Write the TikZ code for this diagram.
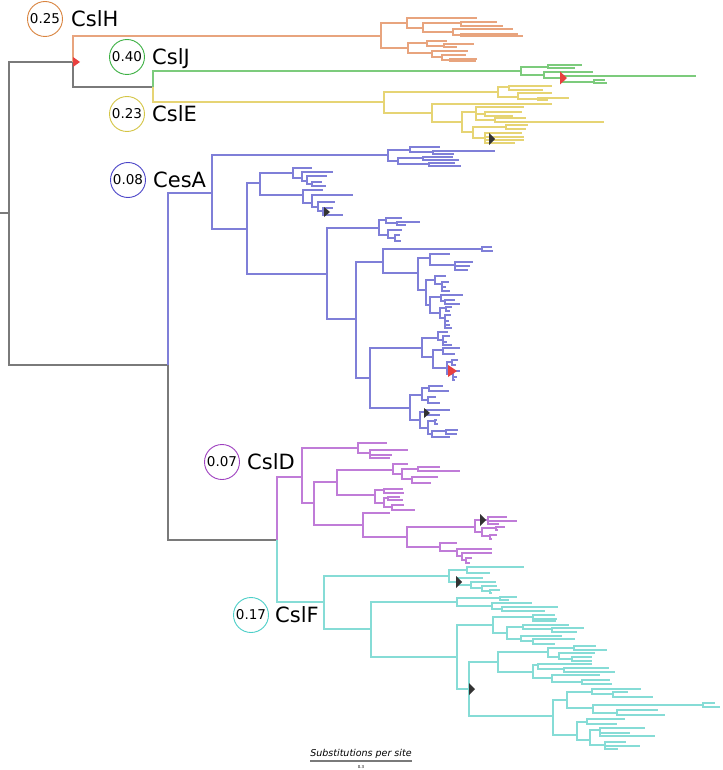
\documentclass[tikz,border=0pt]{standalone}
\usepackage{fontspec}
\setmainfont{DejaVu Sans}
\definecolor{lH}{HTML}{E8A47E}
\definecolor{lJ}{HTML}{7CCB7C}
\definecolor{lE}{HTML}{E6D474}
\definecolor{lA}{HTML}{7F7FD8}
\definecolor{lD}{HTML}{C07CD8}
\definecolor{lF}{HTML}{86DCD6}
\definecolor{lG}{HTML}{7A7A7A}
\definecolor{cH}{HTML}{D9843F}
\definecolor{cJ}{HTML}{3CB043}
\definecolor{cE}{HTML}{D4C545}
\definecolor{cA}{HTML}{4B45C8}
\definecolor{cD}{HTML}{9E3FBF}
\definecolor{cF}{HTML}{4CCFC8}
\definecolor{tred}{HTML}{E8403F}
\definecolor{tdark}{HTML}{333333}
\newcommand\nd[4]{\foreach \cx/\cy in {#4}{\draw[#1] (#2,#3) |- (\cx,\cy);}}
\newcommand\tri[5]{\fill[#1] (#2,#3-#5) -- (#2+#4,#3) -- (#2,#3+#5) -- cycle;}
\tikzset{
  br/.style={line width=1.1pt},
  tH/.style={br,lH}, tJ/.style={br,lJ}, tE/.style={br,lE}, tA/.style={br,lA},
  tD/.style={br,lD}, tF/.style={br,lF}, tG/.style={br,lG},
  circ/.style={circle,draw=#1,line width=0.9pt,minimum size=35pt,inner sep=0pt,
    font=\fontsize{13.5}{14}\selectfont},
  lab/.style={anchor=west,inner sep=0pt,text height=15pt,text depth=0pt,
    font=\fontsize{21}{24}\selectfont}
}
\begin{document}
\begin{tikzpicture}[x=1pt,y=-1pt]
\fill[white] (0,0) rectangle (722,770);
\useasboundingbox (0,0) rectangle (722,770);
% root
\draw[tG] (0,213) -- (9,213);
\nd{tG}{9}{213}{73/62,168/365}
\nd{tH}{73}{62}{381/36}
\nd{tG}{73}{62}{153/87}
\nd{tJ}{153}{87}{521/71}
\nd{tE}{153}{87}{384/102}
% CslH
\nd{tH}{381}{36}{407/23,408/48}
\nd{tH}{407}{23}{477/18,423/28}
\nd{tH}{423}{28}{461/23,453/32}
\nd{tH}{461}{23}{497/22,503/26}
\nd{tH}{453}{32}{513/29,461/35}
\nd{tH}{461}{35}{518/34,523/36}
\nd{tH}{408}{48}{427/43,432/53}
\nd{tH}{427}{43}{447/41,444/46}
\nd{tH}{444}{46}{474/44,457/47}
\nd{tH}{432}{53}{468/51,442/57}
\nd{tH}{442}{57}{466/55,450/60}
\nd{tH}{450}{60}{477/59,476/61}
% CslJ
\nd{tJ}{521}{71}{548/67,544/75}
\nd{tJ}{548}{67}{582/65,575/68}
\nd{tJ}{544}{75}{593/72,562/78}
\nd{tJ}{562}{78}{696/76,594/82}
\nd{tJ}{594}{82}{605/80,607/83}
% CslE
\nd{tE}{384}{102}{498/92,432/113}
\nd{tE}{498}{92}{509/87,518/97}
\nd{tE}{509}{87}{552/86,543/90}
\nd{tE}{518}{97}{552/93,538/99}
\nd{tE}{538}{99}{569/98,548/100}
\nd{tE}{432}{113}{552/104,462/122}
\nd{tE}{462}{122}{476/112,473/132}
\nd{tE}{476}{112}{524/107,485/114,495/120}
\nd{tE}{485}{114}{522/112,513/116}
\nd{tE}{495}{120}{526/118,604/122}
\nd{tE}{473}{132}{506/127,485/138}
\nd{tE}{506}{127}{528/125,526/129}
\nd{tE}{485}{138}{522/133,524/137,524/140,515/143}
% CesA
\nd{tA}{168}{365}{212/193}
\nd{tG}{168}{365}{277/540}
\nd{tA}{212}{193}{388/155,247/229}
\nd{tA}{388}{155}{410/150,398/161}
\nd{tA}{410}{150}{440/147,433/152}
\nd{tA}{433}{152}{495/151,454/154}
\nd{tA}{398}{161}{423/158,429/164}
\nd{tA}{423}{158}{453/157,459/160}
\nd{tA}{429}{164}{455/163,461/166}
\nd{tA}{247}{229}{260/183,327/274}
\nd{tA}{260}{183}{293/173,303/195}
\nd{tA}{293}{173}{312/168,302/178}
\nd{tA}{302}{178}{333/172,307/181}
\nd{tA}{307}{181}{327/176,312/184}
\nd{tA}{312}{184}{322/182,326/186}
\nd{tA}{303}{195}{323/190,312/203}
\nd{tA}{312}{203}{353/195,318/207}
\nd{tA}{318}{207}{335/202,323/211}
\nd{tA}{323}{211}{333/208,343/215}
\nd{tA}{327}{274}{379/228,356/319}
\nd{tA}{379}{228}{386/220,388/235}
\nd{tA}{386}{220}{402/218,397/223}
\nd{tA}{397}{223}{420/222,406/225}
\nd{tA}{388}{235}{402/230,395/238}
\nd{tA}{395}{238}{400/235,401/241}
\nd{tA}{356}{319}{383/262,370/378}
\nd{tA}{383}{262}{482/249,418/273}
\nd{tA}{482}{249}{492/247,493/251}
\nd{tA}{418}{273}{430/258,426/290}
\nd{tA}{430}{258}{450/254,455/265}
\nd{tA}{455}{265}{473/262,470/266,468/270}
\nd{tA}{426}{290}{435/280,430/305}
\nd{tA}{435}{280}{446/276,442/284}
\nd{tA}{442}{284}{449/282,446/287,450/291}
\nd{tA}{430}{305}{441/297,440/313}
\nd{tA}{441}{297}{463/295,445/301}
\nd{tA}{445}{301}{455/300,460/304}
\nd{tA}{440}{313}{446/308,445/318}
\nd{tA}{446}{308}{452/307,450/311}
\nd{tA}{445}{318}{451/315,449/321,450/325,452/328}
\nd{tA}{370}{378}{422/348,410/408}
\nd{tA}{422}{348}{438/338,433/357}
\nd{tA}{438}{338}{448/332,443/340}
\nd{tA}{443}{340}{450/336,447/342,452/345}
\nd{tA}{433}{357}{443/350,447/368}
\nd{tA}{443}{350}{460/348,455/354}
\nd{tA}{447}{368}{452/362,453/374}
\nd{tA}{452}{362}{458/360,456/365}
\nd{tA}{453}{374}{460/371,457/377,455/380}
\nd{tA}{410}{408}{422/395,420/420}
\nd{tA}{422}{395}{429/388,428/400}
\nd{tA}{429}{388}{443/386,449/391}
\nd{tA}{428}{400}{436/397,440/403}
\nd{tA}{420}{420}{425/412,428/428}
\nd{tA}{425}{412}{450/410,440/415}
\nd{tA}{428}{428}{435/421,432/434}
\nd{tA}{435}{421}{437/420,438/424}
\nd{tA}{432}{434}{446/431,450/437}
\nd{tA}{446}{431}{458/430,457/434}
% CslD
\nd{tD}{277}{540}{302/477}
\nd{tF}{277}{540}{324/602}
\nd{tD}{302}{477}{358/448,314/503}
\nd{tD}{358}{448}{387/443,370/453}
\nd{tD}{370}{453}{408/450,392/455,390/458}
\nd{tD}{314}{503}{337/482,363/525}
\nd{tD}{337}{482}{393/470,375/495}
\nd{tD}{393}{470}{408/464,402/474}
\nd{tD}{402}{474}{418/469,412/479}
\nd{tD}{418}{469}{440/467,460/471}
\nd{tD}{412}{479}{438/477,431/483}
\nd{tD}{375}{495}{384/490,384/503}
\nd{tD}{384}{490}{403/489,404/493}
\nd{tD}{384}{503}{388/498,392/507}
\nd{tD}{388}{498}{400/497,403/500}
\nd{tD}{392}{507}{404/505,415/510}
\nd{tD}{363}{525}{390/513,407/537}
\nd{tD}{407}{537}{475/527,440/547}
\nd{tD}{475}{527}{488/520,482/532}
\nd{tD}{488}{520}{507/517,517/521,499/524}
\nd{tD}{482}{532}{496/528,490/536}
\nd{tD}{496}{528}{505/527,498/530}
\nd{tD}{490}{536}{497/535,492/539}
\nd{tD}{440}{547}{457/543,457/551}
\nd{tD}{457}{551}{492/549,462/556}
\nd{tD}{462}{556}{492/553,466/560}
\nd{tD}{466}{560}{472/558,470/563}
% CslF
\nd{tF}{324}{602}{449/576,371/629}
\nd{tF}{449}{576}{467/570,458/582}
\nd{tF}{467}{570}{524/567,490/573}
\nd{tF}{458}{582}{483/578,471/585}
\nd{tF}{471}{585}{496/582,482/588}
\nd{tF}{482}{588}{497/586,490/591}
\nd{tF}{490}{591}{500/590,492/593}
\nd{tF}{371}{629}{457/602,457/657}
\nd{tF}{457}{602}{500/598,492/606}
\nd{tF}{500}{598}{517/597,509/600}
\nd{tF}{492}{606}{532/603,502/609}
\nd{tF}{502}{609}{558/607,545/611}
\nd{tF}{457}{657}{493/625,469/689}
\nd{tF}{493}{625}{533/617,507/633}
\nd{tF}{533}{617}{555/615,557/619,556/621}
\nd{tF}{507}{633}{523/627,521/639}
\nd{tF}{523}{627}{569/625,552/629}
\nd{tF}{552}{629}{584/628,577/632}
\nd{tF}{521}{639}{562/636,533/641}
\nd{tF}{533}{641}{575/639,555/644}
\nd{tF}{469}{689}{498/662,553/716}
\nd{tF}{498}{662}{548/652,533/672}
\nd{tF}{548}{652}{574/648,559/657}
\nd{tF}{574}{648}{596/646,607/650}
\nd{tF}{559}{657}{595/653,572/659}
\nd{tF}{572}{659}{592/657,592/661}
\nd{tF}{533}{672}{538/665,552/678}
\nd{tF}{538}{665}{592/664,564/669}
\nd{tF}{564}{669}{609/668,615/672}
\nd{tF}{552}{678}{600/675,582/682}
\nd{tF}{582}{682}{610/680,612/684}
\nd{tF}{553}{716}{567/700,577/735}
\nd{tF}{567}{700}{592/692,593/708}
\nd{tF}{592}{692}{641/689,613/694}
\nd{tF}{613}{694}{628/692,653/697}
\nd{tF}{593}{708}{703/705,617/713}
\nd{tF}{703}{705}{715/703,720/707}
\nd{tF}{617}{713}{658/710,665/715}
\nd{tF}{577}{735}{587/722,590/740}
\nd{tF}{587}{722}{625/719,617/724}
\nd{tF}{590}{740}{600/730,605/745}
\nd{tF}{600}{730}{645/728,630/733,655/736}
\nd{tF}{605}{745}{626/742,640/746,618/749}
% triangles
\tri{tred}{73}{62}{7}{5}
\tri{tred}{560}{78}{7}{6.5}
\tri{tdark}{489}{139}{6}{6}
\tri{tdark}{324}{212}{6}{5}
\tri{tred}{448}{371}{9}{6}
\tri{tdark}{424}{413}{6}{5}
\tri{tdark}{480}{520}{6}{6}
\tri{tdark}{456}{582}{6}{6}
\tri{tdark}{469}{689}{6}{6}
% labels
\node[circ=cH] (kH) at (45,19) {0.25};
\node[lab] (nH) at (71,19) {CslH};
\node[circ=cJ] (kJ) at (127,57) {0.40};
\node[lab] (nJ) at (152,57) {CslJ};
\node[circ=cE] (kE) at (127,114) {0.23};
\node[lab] (nE) at (152,114) {CslE};
\node[circ=cA] (kA) at (128,180) {0.08};
\node[lab] (nA) at (153,180) {CesA};
\node[circ=cD] (kD) at (222,462) {0.07};
\node[lab] (nD) at (247,462) {CslD};
\node[circ=cF] (kF) at (251,615) {0.17};
\node[lab] (nF) at (275,615) {CslF};
% scale bar
\node[inner sep=0pt,font=\fontsize{9.5}{10}\selectfont\itshape] (sb) at (361,754) {Substitutions per site};
\coordinate (sl) at (310,761);
\coordinate (sr) at (412,761);
\draw[lG,line width=1.2pt] (sl) -- (sr);
\node[inner sep=0pt,font=\fontsize{4}{5}\selectfont] (sv) at (361,767) {0.3};
\end{tikzpicture}
\end{document}
